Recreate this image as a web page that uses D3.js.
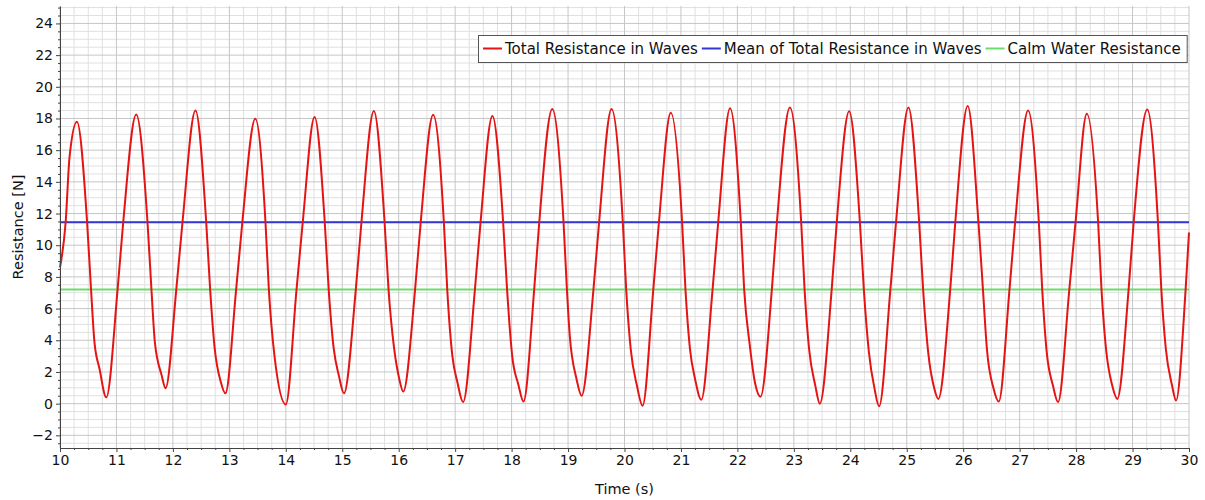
<!DOCTYPE html>
<html>
<head>
<meta charset="utf-8">
<script src="https://cdn.jsdelivr.net/npm/d3@7"></script>
<style>
  body { margin: 0; background: #fff; }
  text { font-family: "DejaVu Sans", sans-serif; }
</style>
</head>
<body>
<div id="chart"></div>
<script>
// values
let timeS = [
  10.00, 10.10, 10.17, 10.30, 10.48, 10.55, 10.61, 10.70, 10.82,
  11.02, 11.12, 11.35, 11.55, 11.62, 11.68, 11.80, 11.87,
  12.06, 12.17, 12.40, 12.59, 12.66, 12.74, 12.85, 12.93,
  13.12, 13.23, 13.46, 13.64, 13.70, 13.80, 14.00,
  14.19, 14.30, 14.51, 14.69, 14.76, 14.85, 14.94, 15.03,
  15.24, 15.34, 15.56, 15.75, 15.82, 15.92, 16.01, 16.08,
  16.29, 16.39, 16.61, 16.80, 16.86, 16.95, 17.04, 17.14,
  17.35, 17.45, 17.66, 17.85, 17.92, 18.01, 18.12, 18.21,
  18.40, 18.49, 18.72, 18.92, 18.98, 19.03, 19.15, 19.24,
  19.45, 19.55, 19.77, 19.97, 20.03, 20.11, 20.22, 20.32,
  20.51, 20.61, 20.82, 21.02, 21.08, 21.16, 21.25, 21.36,
  21.56, 21.66, 21.87, 22.06, 22.12, 22.22, 22.31, 22.41,
  22.61, 22.70, 22.93, 23.13, 23.19, 23.27, 23.38, 23.46,
  23.67, 23.76, 23.98, 24.17, 24.24, 24.33, 24.43, 24.51,
  24.71, 24.81, 25.03, 25.22, 25.29, 25.38, 25.49, 25.56,
  25.77, 25.86, 26.08, 26.27, 26.35, 26.42, 26.54, 26.63,
  26.82, 26.92, 27.15, 27.34, 27.40, 27.48, 27.59, 27.68,
  27.88, 27.99, 28.19, 28.39, 28.45, 28.53, 28.64, 28.73,
  28.93, 29.02, 29.26, 29.45, 29.51, 29.59, 29.70, 29.77,
  29.94, 30.00
];
let resistanceN = [
  8.6, 11.45, 15.6, 17.8, 11.45, 7.2, 3.9, 2.2, 0.4,
  7.2, 11.45, 18.25, 11.45, 7.2, 3.9, 1.8, 0.97,
  7.2, 11.45, 18.5, 11.45, 7.2, 3.5, 1.35, 0.65,
  7.2, 11.45, 17.98, 11.45, 7.2, 3.0, -0.05,
  7.2, 11.45, 18.1, 11.45, 7.2, 3.45, 1.77, 0.65,
  7.2, 11.45, 18.47, 11.45, 7.2, 3.45, 1.56, 0.76,
  7.2, 11.45, 18.24, 11.45, 7.2, 3.03, 1.35, 0.1,
  7.2, 11.45, 18.15, 11.45, 7.2, 3.03, 1.2, 0.13,
  7.2, 11.45, 18.6, 11.45, 7.2, 4.3, 1.56, 0.5,
  7.2, 11.45, 18.6, 11.45, 7.2, 3.45, 1.14, -0.13,
  7.2, 11.45, 18.36, 11.45, 7.2, 3.45, 1.56, 0.25,
  7.2, 11.45, 18.65, 11.45, 7.2, 3.66, 1.35, 0.44,
  7.2, 11.45, 18.7, 11.45, 7.2, 3.45, 1.14, 0.0,
  7.2, 11.45, 18.45, 11.45, 7.2, 3.24, 0.93, -0.17,
  7.2, 11.45, 18.7, 11.45, 7.2, 3.24, 0.93, 0.3,
  7.2, 11.45, 18.78, 11.45, 7.2, 3.45, 0.93, 0.13,
  7.2, 11.45, 18.5, 11.45, 7.2, 3.24, 1.14, 0.1,
  7.2, 11.45, 18.3, 11.45, 7.2, 3.45, 1.14, 0.3,
  7.2, 11.45, 18.57, 11.45, 7.2, 3.45, 1.14, 0.2,
  7.2, 10.8
];
let meanResistance = 11.45;
let calmResistance = 7.2;

let xTicks = d3.range(10, 31, 1);
let yTicks = d3.range(-2, 25, 2);
let seriesNames = ["Total Resistance in Waves", "Mean of Total Resistance in Waves", "Calm Water Resistance"];
let seriesColors = ["#e41414", "#3535cf", "#6ade6a"];

// dimensions and margins
let margin = {top: 6, right: 16, bottom: 52, left: 60},
    width = 1205 - margin.left - margin.right,
    height = 500 - margin.top - margin.bottom;

let svg = d3.select("#chart")
  .append("svg")
    .attr("width", 1205)
    .attr("height", 500)
  .append("g")
    .attr("transform", `translate(${margin.left}, ${margin.top})`);

let x = d3.scaleLinear().domain([10, 30]).range([0, width]);
let y = d3.scaleLinear().domain([-2.8, 25.1]).range([height, 0]);

// grid, minor first then major
let minorX = d3.range(10, 30.001, 0.25).filter(d => Math.abs(d - Math.round(d)) > 0.01);
let minorY = d3.range(-2.5, 25.01, 0.5).filter(d => Math.abs(d / 2 - Math.round(d / 2)) > 0.01);

let grid = svg.append("g").attr("class", "grid");
grid.selectAll(".vminor").data(minorX).enter().append("line")
  .attr("x1", d => x(d)).attr("x2", d => x(d))
  .attr("y1", 0).attr("y2", height)
  .attr("stroke", "#e0e0e0");
grid.selectAll(".hminor").data(minorY).enter().append("line")
  .attr("y1", d => y(d)).attr("y2", d => y(d))
  .attr("x1", 0).attr("x2", width)
  .attr("stroke", "#e0e0e0");
grid.selectAll(".vmajor").data(xTicks).enter().append("line")
  .attr("x1", d => x(d)).attr("x2", d => x(d))
  .attr("y1", 0).attr("y2", height)
  .attr("stroke", "#c6c6c6");
grid.selectAll(".hmajor").data(yTicks).enter().append("line")
  .attr("y1", d => y(d)).attr("y2", d => y(d))
  .attr("x1", 0).attr("x2", width)
  .attr("stroke", "#c6c6c6");

// constant lines
svg.append("line")
  .attr("x1", 0).attr("x2", width)
  .attr("y1", y(calmResistance)).attr("y2", y(calmResistance))
  .attr("stroke", seriesColors[2]).attr("stroke-width", 2);
svg.append("line")
  .attr("x1", 0).attr("x2", width)
  .attr("y1", y(meanResistance)).attr("y2", y(meanResistance))
  .attr("stroke", seriesColors[1]).attr("stroke-width", 2);

// resistance curve
let points = timeS.map((t, i) => [t, resistanceN[i]]);
svg.append("path")
  .datum(points)
  .attr("fill", "none")
  .attr("stroke", seriesColors[0])
  .attr("stroke-width", 2)
  .attr("stroke-linejoin", "round")
  .attr("d", d3.line()
    .x(d => x(d[0]))
    .y(d => y(d[1]))
    .curve(d3.curveMonotoneX));

// axes: minor ticks then major ticks with labels
svg.append("g")
  .attr("transform", `translate(0, ${height})`)
  .attr("color", "#444")
  .call(d3.axisBottom(x).tickValues(minorX).tickSize(2).tickFormat(""))
  .select(".domain").remove();
let xAxis = svg.append("g")
  .attr("transform", `translate(0, ${height})`)
  .attr("color", "#444")
  .call(d3.axisBottom(x).tickValues(xTicks).tickSize(4).tickPadding(3).tickSizeOuter(0).tickFormat(d3.format("d")));
xAxis.selectAll("text").attr("font-size", 14).attr("fill", "#111");

svg.append("g")
  .attr("color", "#444")
  .call(d3.axisLeft(y).tickValues(minorY).tickSize(2).tickFormat(""))
  .select(".domain").remove();
let yAxis = svg.append("g")
  .attr("color", "#444")
  .call(d3.axisLeft(y).tickValues(yTicks).tickSize(4).tickPadding(3).tickSizeOuter(0));
yAxis.selectAll("text").attr("font-size", 14).attr("fill", "#111");
svg.selectAll(".tick text").attr("font-family", "DejaVu Sans, sans-serif");

// axis titles
svg.append("text")
  .attr("x", width / 2)
  .attr("y", height + 46)
  .attr("text-anchor", "middle")
  .attr("font-size", 14.5)
  .attr("fill", "#111")
  .text("Time (s)");
svg.append("text")
  .attr("transform", `translate(${23 - margin.left}, ${height / 2}) rotate(-90)`)
  .attr("text-anchor", "middle")
  .attr("font-size", 14.5)
  .attr("fill", "#111")
  .text("Resistance [N]");

// legend
let legend = d3.select("#chart svg").append("g").attr("transform", "translate(478, 35)");
let legendBox = legend.append("rect")
  .attr("x", 0.5).attr("y", 0.5)
  .attr("height", 27)
  .attr("fill", "#fff")
  .attr("stroke", "#555");
let cursor = 5;
seriesNames.forEach((name, i) => {
  legend.append("line")
    .attr("x1", cursor).attr("x2", cursor + 19)
    .attr("y1", 13.5).attr("y2", 13.5)
    .attr("stroke", seriesColors[i]).attr("stroke-width", 2);
  let t = legend.append("text")
    .attr("x", cursor + 22)
    .attr("y", 19)
    .attr("font-size", 15)
    .attr("fill", "#111")
    .text(name);
  cursor += 22 + t.node().getComputedTextLength() + 4;
});
legendBox.attr("width", cursor + 2);
</script>
</body>
</html>
